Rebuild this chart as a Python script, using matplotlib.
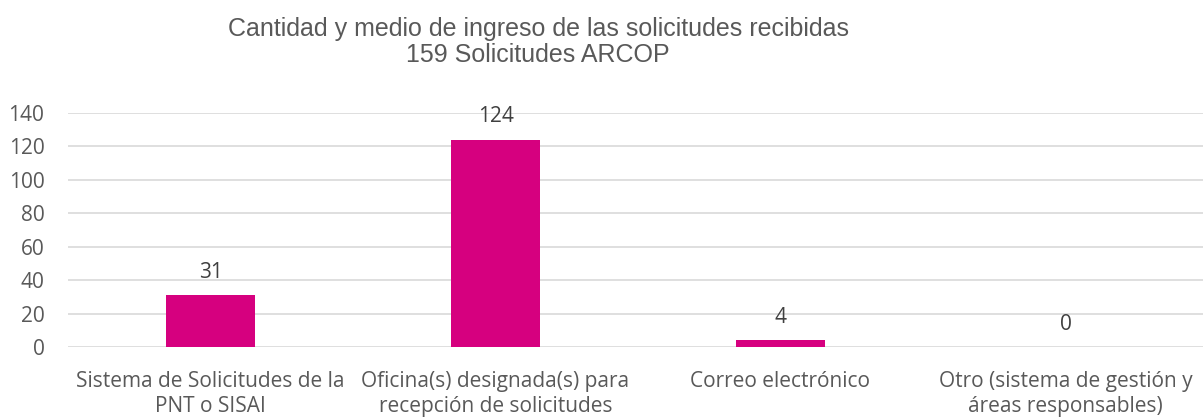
import matplotlib.pyplot as plt

# --- Data ---
categories = [
    "Sistema de Solicitudes de la\nPNT o SISAI",
    "Oficina(s) designada(s) para\nrecepción de solicitudes",
    "Correo electrónico",
    "Otro (sistema de gestión y\náreas responsables)",
]
values = [31, 124, 4, 0]
y_ticks = [0, 20, 40, 60, 80, 100, 120, 140]
title_lines = ["Cantidad y medio de ingreso de las solicitudes recibidas",
               "159 Solicitudes ARCOP"]

BAR_COLOR = "#D6007F"
TEXT_COLOR = "#595959"
GRID_COLOR = "#D9D9D9"

plt.rcParams['font.family'] = ['Open Sans', 'DejaVu Sans']

W, H = 1203, 419
fig = plt.figure(figsize=(W / 100, H / 100), dpi=100)
ax = fig.add_axes([68 / W, (H - 347) / H, 1140 / W, 234 / H])

x = range(len(values))
ax.bar(x, values, width=0.31, color=BAR_COLOR, zorder=3)
for xi, v in zip(x, values):
    ax.annotate(str(v), (xi, v), xytext=(0, 9), textcoords="offset points",
                ha="center", va="bottom", fontsize=15, color="#404040")

ax.set_xlim(-0.5, len(values) - 0.5)
ax.set_ylim(0, 140)
ax.set_yticks(y_ticks)
ax.yaxis.grid(True, color=GRID_COLOR, linewidth=1.2, zorder=0)
ax.set_axisbelow(True)
for s in ax.spines.values():
    s.set_visible(False)
ax.tick_params(axis="both", length=0, labelsize=15, labelcolor=TEXT_COLOR)
ax.tick_params(axis="y", pad=17)
ax.tick_params(axis="x", pad=17)
ax.set_xticks(list(x))
ax.set_xticklabels(categories, linespacing=1.25)
for lbl in ax.get_yticklabels():
    lbl.set_horizontalalignment("right")

fig.text(538 / W, 1 - 17 / H, "\n".join(title_lines), ha="center", va="top",
         fontsize=18, color=TEXT_COLOR, family="Liberation Sans",
         linespacing=1.1)

fig.savefig("out.png", dpi=100)
